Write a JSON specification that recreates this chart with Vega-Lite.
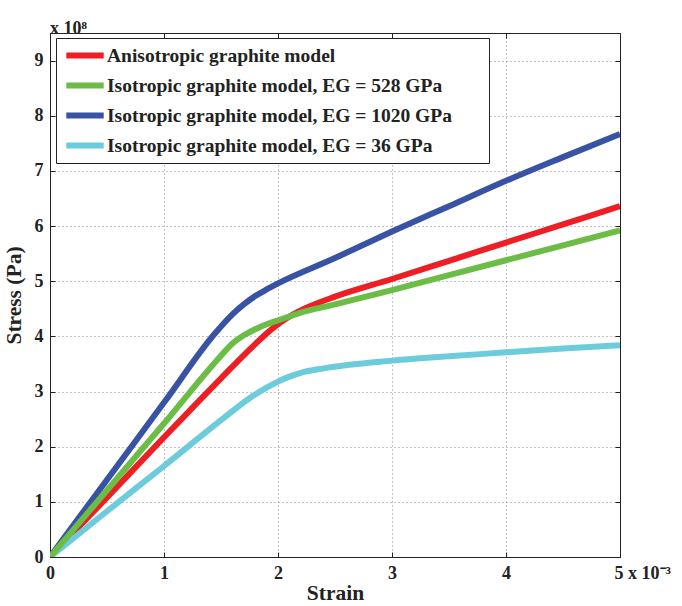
{
  "$schema": "https://vega.github.io/schema/vega-lite/v6.json",
  "width": 570,
  "height": 524,
  "autosize": {"type": "none"},
  "padding": {"left": 50, "top": 33, "right": 62, "bottom": 49},
  "background": "white",
  "title": {
    "text": "x 10⁸",
    "anchor": "start",
    "frame": "group",
    "offset": -5,
    "font": "Liberation Serif",
    "fontSize": 18,
    "fontWeight": "bold",
    "color": "#222"
  },
  "data": {
    "values": [
      {"series": "Anisotropic graphite model", "strain": 0, "stress": 0},
      {"series": "Anisotropic graphite model", "strain": 0.5, "stress": 1.08},
      {"series": "Anisotropic graphite model", "strain": 1, "stress": 2.17},
      {"series": "Anisotropic graphite model", "strain": 1.5, "stress": 3.24},
      {"series": "Anisotropic graphite model", "strain": 1.8, "stress": 3.86},
      {"series": "Anisotropic graphite model", "strain": 1.95, "stress": 4.14},
      {"series": "Anisotropic graphite model", "strain": 2.1, "stress": 4.36},
      {"series": "Anisotropic graphite model", "strain": 2.25, "stress": 4.52},
      {"series": "Anisotropic graphite model", "strain": 2.5, "stress": 4.72},
      {"series": "Anisotropic graphite model", "strain": 3, "stress": 5.04},
      {"series": "Anisotropic graphite model", "strain": 3.5, "stress": 5.37},
      {"series": "Anisotropic graphite model", "strain": 4, "stress": 5.70},
      {"series": "Anisotropic graphite model", "strain": 4.5, "stress": 6.03},
      {"series": "Anisotropic graphite model", "strain": 5, "stress": 6.36},
      {"series": "Isotropic graphite model, EG = 1020 GPa", "strain": 0, "stress": 0},
      {"series": "Isotropic graphite model, EG = 1020 GPa", "strain": 0.5, "stress": 1.4},
      {"series": "Isotropic graphite model, EG = 1020 GPa", "strain": 1, "stress": 2.8},
      {"series": "Isotropic graphite model, EG = 1020 GPa", "strain": 1.45, "stress": 4.06},
      {"series": "Isotropic graphite model, EG = 1020 GPa", "strain": 1.6, "stress": 4.4},
      {"series": "Isotropic graphite model, EG = 1020 GPa", "strain": 1.7, "stress": 4.58},
      {"series": "Isotropic graphite model, EG = 1020 GPa", "strain": 1.8, "stress": 4.73},
      {"series": "Isotropic graphite model, EG = 1020 GPa", "strain": 1.9, "stress": 4.85},
      {"series": "Isotropic graphite model, EG = 1020 GPa", "strain": 2, "stress": 4.96},
      {"series": "Isotropic graphite model, EG = 1020 GPa", "strain": 2.5, "stress": 5.42},
      {"series": "Isotropic graphite model, EG = 1020 GPa", "strain": 3, "stress": 5.9},
      {"series": "Isotropic graphite model, EG = 1020 GPa", "strain": 3.5, "stress": 6.36},
      {"series": "Isotropic graphite model, EG = 1020 GPa", "strain": 4, "stress": 6.82},
      {"series": "Isotropic graphite model, EG = 1020 GPa", "strain": 4.5, "stress": 7.25},
      {"series": "Isotropic graphite model, EG = 1020 GPa", "strain": 5, "stress": 7.67},
      {"series": "Isotropic graphite model, EG = 36 GPa", "strain": 0, "stress": 0},
      {"series": "Isotropic graphite model, EG = 36 GPa", "strain": 0.5, "stress": 0.83},
      {"series": "Isotropic graphite model, EG = 36 GPa", "strain": 1, "stress": 1.65},
      {"series": "Isotropic graphite model, EG = 36 GPa", "strain": 1.5, "stress": 2.48},
      {"series": "Isotropic graphite model, EG = 36 GPa", "strain": 1.75, "stress": 2.88},
      {"series": "Isotropic graphite model, EG = 36 GPa", "strain": 1.9, "stress": 3.07},
      {"series": "Isotropic graphite model, EG = 36 GPa", "strain": 2, "stress": 3.18},
      {"series": "Isotropic graphite model, EG = 36 GPa", "strain": 2.1, "stress": 3.27},
      {"series": "Isotropic graphite model, EG = 36 GPa", "strain": 2.2, "stress": 3.34},
      {"series": "Isotropic graphite model, EG = 36 GPa", "strain": 2.4, "stress": 3.42},
      {"series": "Isotropic graphite model, EG = 36 GPa", "strain": 3, "stress": 3.56},
      {"series": "Isotropic graphite model, EG = 36 GPa", "strain": 3.5, "stress": 3.64},
      {"series": "Isotropic graphite model, EG = 36 GPa", "strain": 4, "stress": 3.71},
      {"series": "Isotropic graphite model, EG = 36 GPa", "strain": 4.5, "stress": 3.78},
      {"series": "Isotropic graphite model, EG = 36 GPa", "strain": 5, "stress": 3.84},
      {"series": "Isotropic graphite model, EG = 528 GPa", "strain": 0, "stress": 0},
      {"series": "Isotropic graphite model, EG = 528 GPa", "strain": 0.5, "stress": 1.21},
      {"series": "Isotropic graphite model, EG = 528 GPa", "strain": 1, "stress": 2.42},
      {"series": "Isotropic graphite model, EG = 528 GPa", "strain": 1.5, "stress": 3.65},
      {"series": "Isotropic graphite model, EG = 528 GPa", "strain": 1.6, "stress": 3.87},
      {"series": "Isotropic graphite model, EG = 528 GPa", "strain": 1.7, "stress": 4.02},
      {"series": "Isotropic graphite model, EG = 528 GPa", "strain": 1.8, "stress": 4.13},
      {"series": "Isotropic graphite model, EG = 528 GPa", "strain": 1.9, "stress": 4.22},
      {"series": "Isotropic graphite model, EG = 528 GPa", "strain": 2, "stress": 4.29},
      {"series": "Isotropic graphite model, EG = 528 GPa", "strain": 2.2, "stress": 4.43},
      {"series": "Isotropic graphite model, EG = 528 GPa", "strain": 2.5, "stress": 4.58},
      {"series": "Isotropic graphite model, EG = 528 GPa", "strain": 3, "stress": 4.84},
      {"series": "Isotropic graphite model, EG = 528 GPa", "strain": 3.5, "stress": 5.11},
      {"series": "Isotropic graphite model, EG = 528 GPa", "strain": 4, "stress": 5.38},
      {"series": "Isotropic graphite model, EG = 528 GPa", "strain": 4.5, "stress": 5.65},
      {"series": "Isotropic graphite model, EG = 528 GPa", "strain": 5, "stress": 5.92}
    ]
  },
  "layer": [
    {
      "mark": {"type": "line", "strokeWidth": 6, "interpolate": "monotone", "strokeJoin": "round", "clip": true},
      "encoding": {
        "x": {
          "field": "strain", "type": "quantitative",
          "scale": {"domain": [0, 5], "nice": false, "zero": false},
          "axis": {
            "orient": "bottom",
            "values": [0, 1, 2, 3, 4, 5],
            "labelExpr": "datum.value == 5 ? '5 x 10⁻³' : datum.label",
            "labelAlign": {"condition": {"test": "datum.value == 5", "value": "left"}, "value": "center"},
            "labelOffset": {"condition": {"test": "datum.value == 5", "value": -6}, "value": 0},
            "title": "Strain",
            "titlePadding": 0,
            "titleFontSize": 21.5
          }
        },
        "y": {
          "field": "stress", "type": "quantitative",
          "scale": {"domain": [0, 9.5], "nice": false, "zero": false},
          "axis": {
            "orient": "left",
            "values": [0, 1, 2, 3, 4, 5, 6, 7, 8, 9],
            "title": "Stress (Pa)",
            "titlePadding": 9,
            "titleFontSize": 21.5
          }
        },
        "color": {
          "field": "series", "type": "nominal",
          "scale": {
            "domain": [
              "Anisotropic graphite model",
              "Isotropic graphite model, EG = 528 GPa",
              "Isotropic graphite model, EG = 1020 GPa",
              "Isotropic graphite model, EG = 36 GPa"
            ],
            "range": ["#ED1F24", "#6BBD45", "#3953A4", "#6CCCDB"]
          },
          "legend": {
            "orient": "none",
            "legendX": 6,
            "legendY": 5,
            "title": null,
            "symbolType": "stroke",
            "symbolStrokeWidth": 6,
            "symbolSize": 1400,
            "clipHeight": 21,
            "labelExpr": "datum.label + '\u2800\u2800'",
            "labelFont": "Liberation Serif",
            "labelFontSize": 19.5,
            "labelFontWeight": "bold",
            "labelColor": "#222",
            "labelLimit": 600,
            "rowPadding": 9,
            "padding": 7,
            "fillColor": "white",
            "strokeColor": "#222",
            "labelOffset": 0
          }
        }
      }
    },
    {
      "mark": {"type": "line", "opacity": 0},
      "encoding": {
        "x": {
          "field": "strain", "type": "quantitative",
          "axis": {"orient": "top", "values": [0, 1, 2, 3, 4, 5], "labels": false, "grid": false, "title": null}
        },
        "y": {
          "field": "stress", "type": "quantitative",
          "axis": {"orient": "right", "values": [0, 1, 2, 3, 4, 5, 6, 7, 8, 9], "labels": false, "grid": false, "title": null}
        }
      }
    }
  ],
  "resolve": {"axis": {"x": "independent", "y": "independent"}},
  "config": {
    "view": {"stroke": "#222", "strokeWidth": 1},
    "axis": {
      "domainColor": "#222",
      "domainWidth": 1,
      "tickColor": "#222",
      "tickSize": -5,
      "labelPadding": 12,
      "labelFont": "Liberation Serif",
      "labelFontSize": 18,
      "labelFontWeight": "bold",
      "labelColor": "#222",
      "titleFont": "Liberation Serif",
      "titleFontSize": 18,
      "titleFontWeight": "bold",
      "titleColor": "#222",
      "grid": true,
      "gridColor": "#888",
      "gridDash": [1, 3],
      "gridWidth": 1,
      "labelFlush": false,
      "labelOverlap": false
    }
  }
}
